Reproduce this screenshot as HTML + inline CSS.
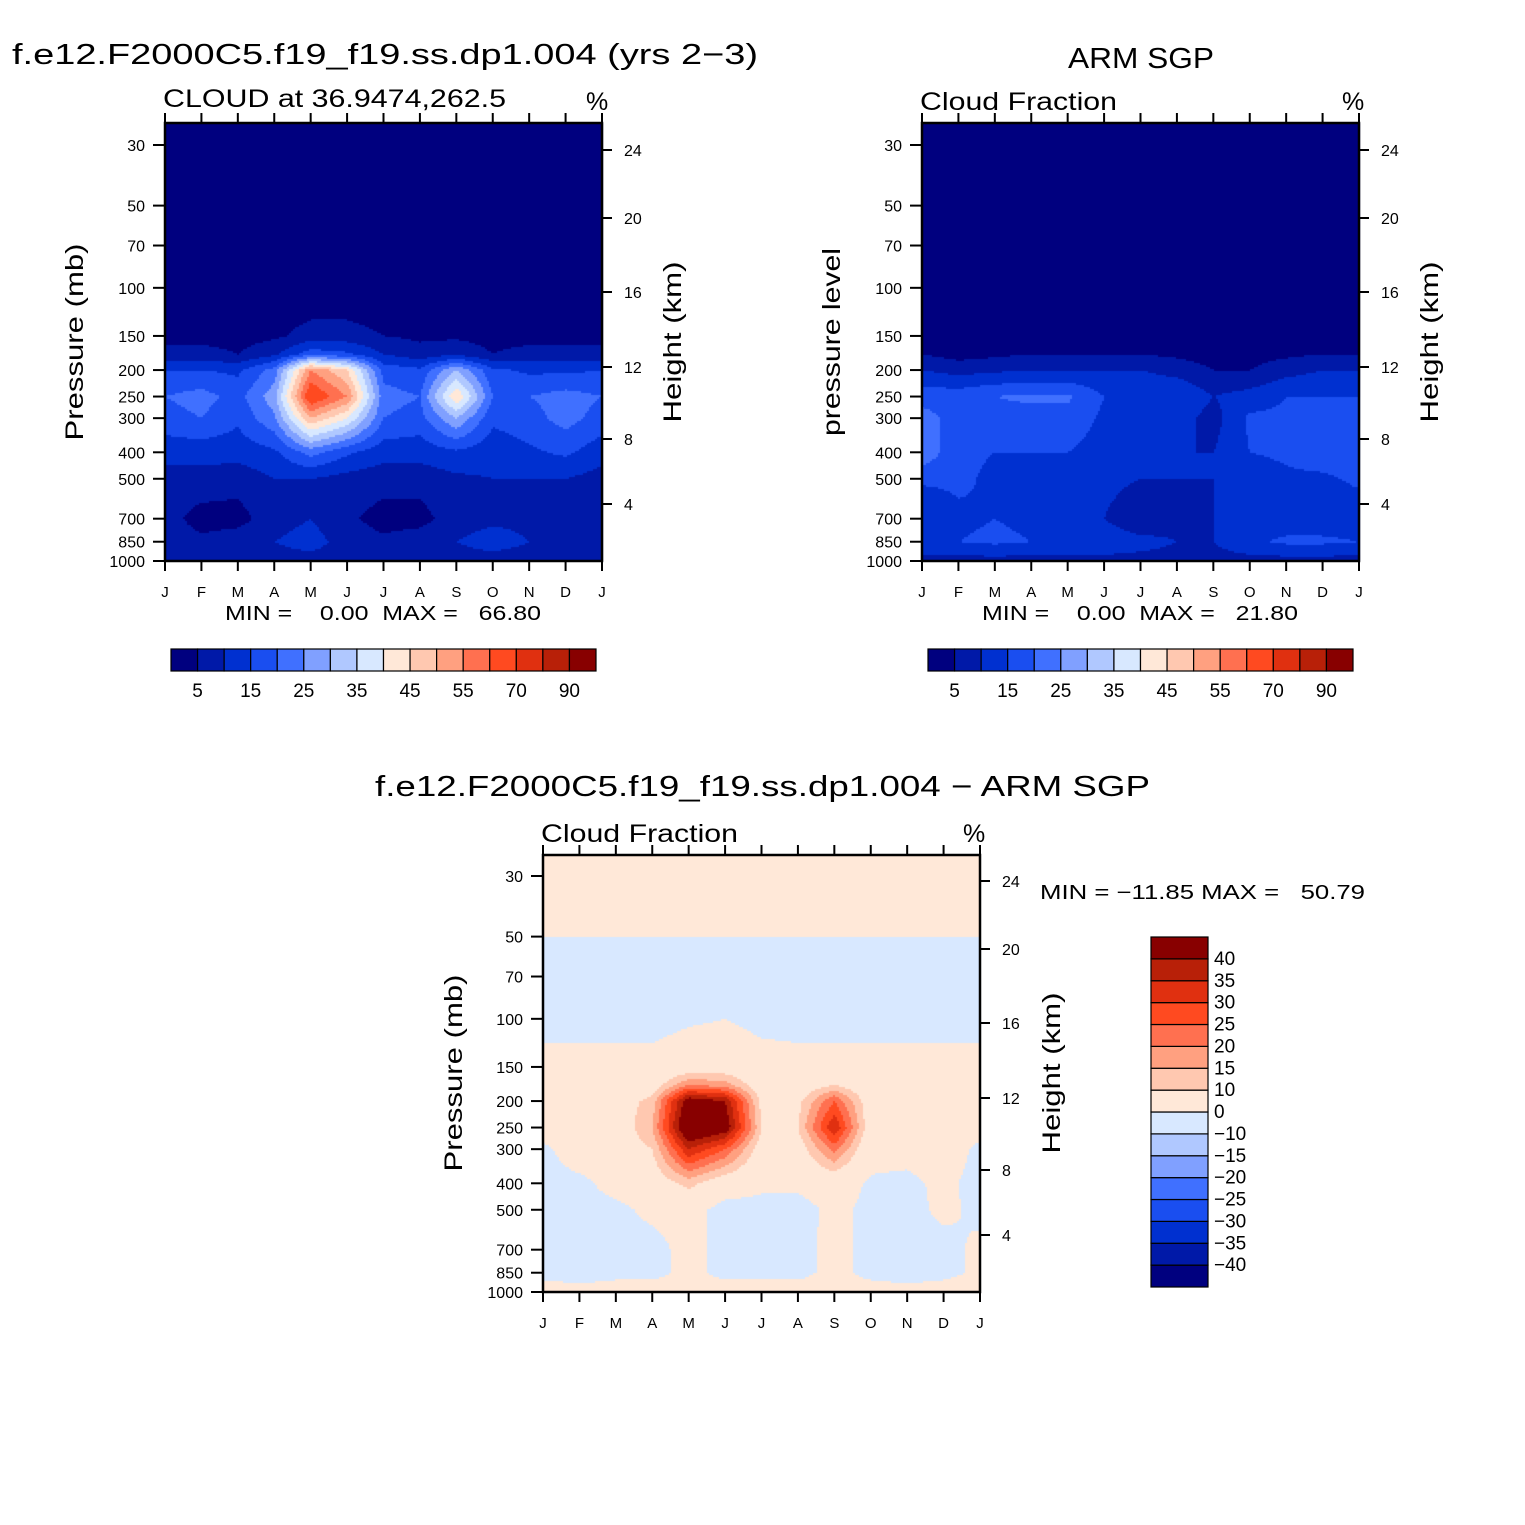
<!DOCTYPE html>
<html><head><meta charset="utf-8">
<style>
body{margin:0;background:#fff;width:1525px;height:1525px;overflow:hidden;position:relative}
canvas,svg{position:absolute;left:0;top:0}
text{font-family:"Liberation Sans",sans-serif;fill:#000;white-space:pre}
</style></head>
<body>
<canvas id="cv" width="1525" height="1525"></canvas>
<svg id="sv" width="1525" height="1525"></svg>
<script>
// ---- data ----
const monthLabels = ["J","F","M","A","M","J","J","A","S","O","N","D","J"];
const pLevels = [25,30,48,52,70,100,150,175,200,250,300,400,500,700,850,1000];
const pTicks = [30,50,70,100,150,200,250,300,400,500,700,850,1000];
const hTickLabels = ["24","20","16","12","8","4"];
const modelVals = [
[0,0,0,0,0,0,0,0,0,0,0,0,0],
[0,0,0,0,0,0,0,0,0,0,0,0,0],
[0,0,0,0,0,0,0,0,0,0,0,0,0],
[0,0,0,0,0,0,0,0,0,0,0,0,0],
[0,0,0,0,0,0,0,0,0,0,0,0,0],
[1,1,1,1,1,1,1,1,1,1,1,1,1],
[3,3,3,4,7,7,5,4,4,3,3,3,3],
[7,7,5,9,18,16,10,7,9,5,7,7,7],
[15,15,14,22,55,45,18,16,30,16,14,14,15],
[20,22,18,28,66,55,22,20,45,20,20,22,20],
[18,20,16,24,50,40,20,18,30,16,18,22,18],
[12,12,12,14,22,16,12,12,14,12,14,16,12],
[8,8,7,10,10,8,7,7,9,10,10,10,8],
[7,3,3,8,10,6,3,3,8,9,9,9,7],
[8,6,8,10,12,8,6,8,10,12,10,10,8],
[8,8,8,8,8,8,8,8,8,8,8,8,8]];
const obsVals = [
[0,0,0,0,0,0,0,0,0,0,0,0,0],
[0,0,0,0,0,0,0,0,0,0,0,0,0],
[0,0,0,0,0,0,0,0,0,0,0,0,0],
[0,0,0,0,0,0,0,0,0,0,0,0,0],
[0,0,0,0,0,0,0,0,0,0,0,0,0],
[1,1,1,1,1,1,1,1,1,1,1,1,1],
[2,2,2,2,2,2,2,2,2,2,2,2,2],
[5,3,4,5,5,5,5,4,3,3,4,5,5],
[10,8,9,10,10,10,10,8,5,5,8,10,10],
[18,18,20,21,21,15,15,15,10,12,15,15,15],
[22,18,18,18,18,14,14,12,8,16,16,16,18],
[24,16,15,15,15,13,11,10,10,15,16,18,20],
[16,16,14,13,13,12,10,10,10,12,14,14,16],
[10,14,15,14,10,10,5,8,10,12,12,12,12],
[15,15,16,15,14,14,12,10,10,14,16,16,15],
[8,8,8,8,8,8,8,8,8,8,8,8,8]];
const diffVals = [
[5,5,5,5,5,5,5,5,5,5,5,5,5],
[5,5,5,5,5,5,5,5,5,5,5,5,5],
[5,5,5,5,5,5,5,5,5,5,5,5,5],
[-3,-3,-3,-3,-3,-3,-3,-3,-3,-3,-3,-3,-3],
[-3,-3,-3,-3,-3,-3,-3,-3,-3,-3,-3,-3,-3],
[-3,-3,-3,-3,-1,0,-2,-3,-3,-3,-3,-3,-3],
[3,3,3,3,5,5,3,3,3,3,3,3,3],
[5,5,4,6,20,18,5,5,10,4,4,6,4],
[8,8,6,12,45,40,8,8,25,5,5,10,5],
[5,10,5,15,50,45,10,10,35,5,5,8,3],
[-2,5,5,10,35,25,6,6,22,3,3,5,-2],
[-3,-2,3,5,12,5,2,2,4,-1,-2,2,-3],
[-3,-3,-2,2,3,-3,-3,-3,2,-2,-3,2,-2],
[-3,-3,-3,-3,3,-3,-3,-3,3,-3,-3,-3,2],
[-3,-6,-3,-3,3,-3,-3,-3,3,-3,-6,-3,2],
[5,5,5,5,5,5,5,5,5,5,5,5,5]];
const absLevels = [5,10,15,20,25,30,35,40,45,50,55,60,70,80,90];
const absLabels = ["5","15","25","35","45","55","70","90"];
const diffLevels = [-40,-35,-30,-25,-20,-15,-10,0,10,15,20,25,30,35,40];
const diffLabels = ["40","35","30","25","20","15","10","0","\u221210","\u221215","\u221220","\u221225","\u221230","\u221235","\u221240"];
const colors = ["#00007f","#0019a8","#0030d0","#1a4ef0","#4070ff","#80a0ff","#b0c8ff","#d8e8ff","#ffe8d8","#ffc8b0","#ffa080","#ff7050","#ff4a20","#e03010","#b82008","#880000"];

const cv=document.getElementById('cv'),ctx=cv.getContext('2d');
const sv=document.getElementById('sv');
const NS="http://www.w3.org/2000/svg";
function el(tag,attrs,txt){const e=document.createElementNS(NS,tag);for(const k in attrs)e.setAttribute(k,attrs[k]);if(txt!==undefined)e.textContent=txt;sv.appendChild(e);return e;}

function makeY(y30,y1000){const a=Math.log10(30),b=Math.log10(1000);return p=>y30+(Math.log10(p)-a)/(b-a)*(y1000-y30);}
function sample(grid,m,lp){
  const L=pLevels.map(p=>Math.log10(p));
  let j=0;while(j<L.length-2&&lp>L[j+1])j++;
  let t=(lp-L[j])/(L[j+1]-L[j]);t=Math.max(0,Math.min(1,t));
  let i=Math.min(11,Math.floor(m));let s=m-i;s=Math.max(0,Math.min(1,s));
  const v0=grid[j][i]*(1-s)+grid[j][i+1]*s, v1=grid[j+1][i]*(1-s)+grid[j+1][i+1]*s;
  return v0*(1-t)+v1*t;
}
function panel(o){
  const {x,y,w,h,y30,y1000,grid,levels,name}=o;
  const yS=makeY(y30,y1000);
  const a=Math.log10(30),b=Math.log10(1000);
  const st=2;
  for(let py=y;py<y+h;py+=st){
    const lp=a+(py+st/2-y30)/(y1000-y30)*(b-a);
    for(let px=x;px<x+w;px+=st){
      const m=(px+st/2-x)/w*12;
      const v=sample(grid,m,lp);
      let k=0;while(k<levels.length&&v>=levels[k])k++;
      ctx.fillStyle=colors[k];ctx.fillRect(px,py,st,st);
    }
  }
  const r=el('rect',{x:x,y:y,width:w,height:h,fill:'none',stroke:'#000','stroke-width':2.5});
  
  
  const xs=m=>x+m*w/12;
  monthLabels.forEach((lab,i)=>{
    const X=xs(i);
    el('line',{x1:X,y1:y+h,x2:X,y2:y+h+10,stroke:'#000','stroke-width':2});
    el('line',{x1:X,y1:y,x2:X,y2:y-10,stroke:'#000','stroke-width':2});
    const t=el('text',{x:X,y:y+h+36,'font-size':15,'text-anchor':'middle'},lab);
    
    
  });
  pTicks.forEach(p=>{
    const Y=yS(p);
    el('line',{x1:x,y1:Y,x2:x-12,y2:Y,stroke:'#000','stroke-width':2});
    const t=el('text',{x:x-20,y:Y+6,'font-size':16,'text-anchor':'end'},String(p));
    
    
  });
  o.hY.forEach((Y,i)=>{
    el('line',{x1:x+w,y1:Y,x2:x+w+10,y2:Y,stroke:'#000','stroke-width':2});
    const t=el('text',{x:x+w+22,y:Y+6,'font-size':16},hTickLabels[i]);
    
    
  });
}
const hY1=[150,218,292,367,439,504];
panel({x:165,y:123,w:437,h:438,y30:145,y1000:561,grid:modelVals,levels:absLevels,name:'model',hY:hY1});
panel({x:922,y:123,w:437,h:438,y30:145,y1000:561,grid:obsVals,levels:absLevels,name:'obs',hY:hY1});
panel({x:543,y:855,w:437,h:437,y30:876,y1000:1292,grid:diffVals,levels:diffLevels,name:'diff',hY:hY1.map(v=>v+731)});

function hbar(x0,name){
  const bw=425/16;
  colors.forEach((c,i)=>{
    const r=el('rect',{x:x0+i*bw,y:649,width:bw,height:22,fill:c,stroke:'#000','stroke-width':1.2});
    
    
  });
  absLabels.forEach((l,k)=>{
    const t=el('text',{x:x0+(2*k+1)*bw,y:697,'font-size':19,'text-anchor':'middle'},l);
    
    
  });
}
hbar(171,'model');hbar(928,'obs');
{
  const bh=350/16;
  colors.forEach((c,i)=>{
    const r=el('rect',{x:1151,y:937+(15-i)*bh,width:57,height:bh,fill:c,stroke:'#000','stroke-width':1.2});
    
    
  });
  diffLabels.forEach((l,k)=>{
    const t=el('text',{x:1214,y:937+(k+1)*bh+6,'font-size':19},l);
    
    
  });
}
function txt(name,attrs,s){const t=el('text',attrs,s);return t;}
const LA={lengthAdjust:'spacingAndGlyphs'};
function tl(name,attrs,s){return txt(name,Object.assign({},LA,attrs),s);}
tl('model-title',{x:12,y:64,'font-size':29,textLength:746},'f.e12.F2000C5.f19_f19.ss.dp1.004 (yrs 2\u22123)');
tl('model-subtitle',{x:163,y:107,'font-size':25,textLength:343},'CLOUD at 36.9474,262.5');
txt('model-units',{x:586,y:110,'font-size':25},'%');
tl('model-y-title',{x:0,y:0,'font-size':25,'text-anchor':'middle',textLength:197,transform:'translate(83,342) rotate(-90)'},'Pressure (mb)');
tl('model-y2-title',{x:0,y:0,'font-size':25,'text-anchor':'middle',textLength:161,transform:'translate(681,342) rotate(-90)'},'Height (km)');
tl('model-minmax',{x:225,y:620,'font-size':20,textLength:316},'MIN =    0.00  MAX =   66.80');
tl('obs-title',{x:1068,y:68,'font-size':29,textLength:146},'ARM SGP');
tl('obs-subtitle',{x:920,y:110,'font-size':25,textLength:197},'Cloud Fraction');
txt('obs-units',{x:1342,y:110,'font-size':25},'%');
tl('obs-y-title',{x:0,y:0,'font-size':25,'text-anchor':'middle',textLength:188,transform:'translate(840,342) rotate(-90)'},'pressure level');
tl('obs-y2-title',{x:0,y:0,'font-size':25,'text-anchor':'middle',textLength:161,transform:'translate(1438,342) rotate(-90)'},'Height (km)');
tl('obs-minmax',{x:982,y:620,'font-size':20,textLength:316},'MIN =    0.00  MAX =   21.80');
tl('diff-title',{x:375,y:796,'font-size':29,textLength:775},'f.e12.F2000C5.f19_f19.ss.dp1.004 \u2212 ARM SGP');
tl('diff-subtitle',{x:541,y:842,'font-size':25,textLength:197},'Cloud Fraction');
txt('diff-units',{x:963,y:842,'font-size':25},'%');
tl('diff-y-title',{x:0,y:0,'font-size':25,'text-anchor':'middle',textLength:197,transform:'translate(462,1073) rotate(-90)'},'Pressure (mb)');
tl('diff-y2-title',{x:0,y:0,'font-size':25,'text-anchor':'middle',textLength:161,transform:'translate(1060,1073) rotate(-90)'},'Height (km)');
tl('diff-minmax',{x:1040,y:899,'font-size':20,textLength:325},'MIN = \u221211.85 MAX =   50.79');
</script>
</body></html>
